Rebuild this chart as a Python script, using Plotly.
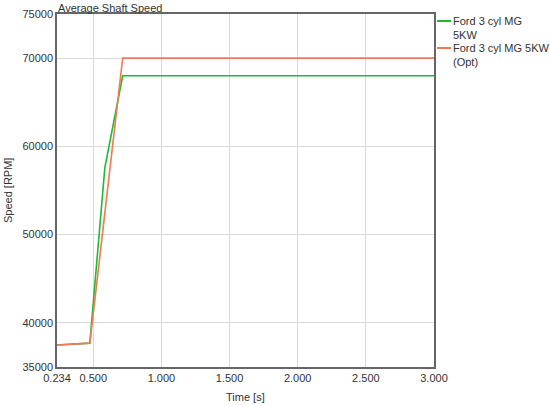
import plotly.graph_objects as go

time_base = [0.234, 0.475, 0.585, 0.716, 3.0]
speed_base = [37500, 37700, 57600, 68000, 68000]

time_opt = [0.234, 0.475, 0.716, 3.0]
speed_opt = [37500, 37700, 70000, 70000]

series_names = [["Ford 3 cyl MG", "5KW"], ["Ford 3 cyl MG 5KW", "(Opt)"]]
series_colors = ['#1fbb2e', '#f07a52']

x_ticks = [0.234, 0.5, 1.0, 1.5, 2.0, 2.5, 3.0]
x_labels = ["0.234", "0.500", "1.000", "1.500", "2.000", "2.500", "3.000"]
y_ticks = [35000, 40000, 50000, 60000, 70000, 75000]

W, H = 550, 406
L, T = 57, 14
R = W - L - 377
B = H - T - 353


def px(xp):
    # page pixel -> paper x
    return (xp - L) / (W - L - R)


def py(yp):
    # page pixel -> paper y
    return 1 - (yp - T) / (H - T - B)


fig = go.Figure()

fig.add_trace(go.Scatter(x=time_base, y=speed_base, mode='lines',
                         name=' '.join(series_names[0]),
                         line=dict(color=series_colors[0], width=1.6)))
fig.add_trace(go.Scatter(x=time_opt, y=speed_opt, mode='lines',
                         name=' '.join(series_names[1]),
                         line=dict(color=series_colors[1], width=1.6)))

# legend drawn by hand so the line samples stay short
shapes = []
for i, (names, col) in enumerate(zip(series_names, series_colors)):
    ytop = 21 + i * 27
    shapes.append(dict(type='line', xref='paper', yref='paper',
                       x0=px(437), x1=px(451), y0=py(ytop), y1=py(ytop),
                       line=dict(color=col, width=2)))
    fig.add_annotation(text='<br>'.join(names), x=px(452), y=py(ytop - 7),
                       xref='paper', yref='paper', xanchor='left', yanchor='top',
                       align='left', showarrow=False, borderpad=0,
                       font=dict(size=11, color='#333333'))

fig.add_annotation(text="Average Shaft Speed", x=0, y=1, xref='paper', yref='paper',
                   xanchor='left', yanchor='bottom', showarrow=False, borderpad=0,
                   font=dict(size=11, color='#333333'), yshift=-1)

# axis titles
fig.add_annotation(text="Time [s]", x=0.5, y=py(397), xref='paper', yref='paper',
                   xanchor='center', yanchor='middle', showarrow=False,
                   font=dict(size=11, color='#333333'))
fig.add_annotation(text="Speed [RPM]", x=px(8), y=py(191), xref='paper', yref='paper',
                   xanchor='center', yanchor='middle', showarrow=False, textangle=-90,
                   font=dict(size=11, color='#333333'))

fig.update_layout(
    width=W, height=H,
    font=dict(family="Liberation Sans, Arial", size=11, color='#333333'),
    margin=dict(l=L, r=R, t=T, b=B, autoexpand=False),
    plot_bgcolor='white', paper_bgcolor='white',
    showlegend=False,
    shapes=shapes,
)

fig.update_xaxes(range=[0.234, 3.0], tickvals=x_ticks, ticktext=x_labels,
                 tickangle=0, automargin=False,
                 showgrid=True, gridcolor='#d9d9d9', gridwidth=1,
                 showline=True, linecolor='#666666', linewidth=1.5, mirror=True,
                 ticks='', zeroline=False, tickfont=dict(size=11))
fig.update_yaxes(range=[35000, 75000], tickvals=y_ticks,
                 tickformat='d', automargin=False,
                 showgrid=True, gridcolor='#d9d9d9', gridwidth=1,
                 showline=True, linecolor='#666666', linewidth=1.5, mirror=True,
                 ticks='', zeroline=False, tickfont=dict(size=11))

# drop the default 8px body margin so the figure sits at the page corner
fig.write_html("out.html", config={'displayModeBar': False},
               post_script="document.body.style.margin='0';")
